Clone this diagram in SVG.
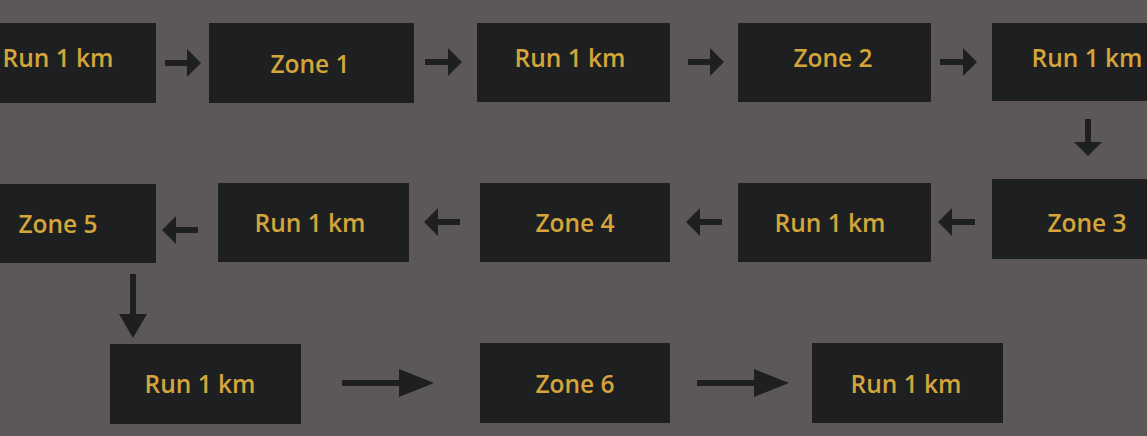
<svg xmlns="http://www.w3.org/2000/svg" width="1147" height="436" viewBox="0 0 1147 436">
<style>
.bg{fill:#5c5857}
.box{fill:#1e1f21}
.lbl{fill:#d4a53b;font-family:"Open Sans","Liberation Sans",sans-serif;font-weight:600;font-size:24.5px;text-anchor:middle;dominant-baseline:central}
.cn{stroke:#1e1f21;stroke-width:6;fill:none}
</style>
<defs>
<marker id="ahS" markerUnits="userSpaceOnUse" markerWidth="14" markerHeight="28" viewBox="0 0 14 28" refX="0" refY="14" orient="auto"><path d="M0,0 L14,14 L0,28 z" fill="#1e1f21"/></marker>
<marker id="ahM" markerUnits="userSpaceOnUse" markerWidth="24" markerHeight="28" viewBox="0 0 24 28" refX="0" refY="14" orient="auto"><path d="M0,0 L24,14 L0,28 z" fill="#1e1f21"/></marker>
<marker id="ahL" markerUnits="userSpaceOnUse" markerWidth="35" markerHeight="28" viewBox="0 0 35 28" refX="0" refY="14" orient="auto"><path d="M0,0 L35,14 L0,28 z" fill="#1e1f21"/></marker>
</defs>
<rect class="bg" x="0" y="0" width="1147" height="436"/>
<g id="n1"><rect class="box" x="-36" y="23" width="192" height="80"/><text class="lbl" x="58" y="57">Run 1 km</text></g>
<g id="n2"><rect class="box" x="209" y="23" width="205" height="80"/><text class="lbl" x="310" y="63">Zone 1</text></g>
<g id="n3"><rect class="box" x="477" y="23" width="193" height="79"/><text class="lbl" x="570" y="57">Run 1 km</text></g>
<g id="n4"><rect class="box" x="738" y="23" width="193" height="79"/><text class="lbl" x="833" y="57">Zone 2</text></g>
<g id="n5"><rect class="box" x="992" y="23" width="192" height="78"/><text class="lbl" x="1087" y="57">Run 1 km</text></g>
<g id="n6"><rect class="box" x="992" y="179" width="192" height="80"/><text class="lbl" x="1087" y="222">Zone 3</text></g>
<g id="n7"><rect class="box" x="738" y="183" width="193" height="79"/><text class="lbl" x="830" y="222">Run 1 km</text></g>
<g id="n8"><rect class="box" x="480" y="183" width="190" height="79"/><text class="lbl" x="575" y="222">Zone 4</text></g>
<g id="n9"><rect class="box" x="218" y="183" width="191" height="79"/><text class="lbl" x="310" y="222">Run 1 km</text></g>
<g id="n10"><rect class="box" x="-36" y="184" width="192" height="79"/><text class="lbl" x="58" y="223">Zone 5</text></g>
<g id="n11"><rect class="box" x="110" y="344" width="191" height="80"/><text class="lbl" x="200" y="383">Run 1 km</text></g>
<g id="n12"><rect class="box" x="480" y="343" width="190" height="80"/><text class="lbl" x="575" y="383">Zone 6</text></g>
<g id="n13"><rect class="box" x="812" y="343" width="191" height="80"/><text class="lbl" x="906" y="383">Run 1 km</text></g>
<g id="connectors">
<line class="cn" x1="165" y1="63" x2="187" y2="63" marker-end="url(#ahS)"/>
<line class="cn" x1="425" y1="62" x2="448" y2="62" marker-end="url(#ahS)"/>
<line class="cn" x1="688" y1="62" x2="710" y2="62" marker-end="url(#ahS)"/>
<line class="cn" x1="940" y1="62" x2="963" y2="62" marker-end="url(#ahS)"/>
<line class="cn" x1="1088" y1="119" x2="1088" y2="142" marker-end="url(#ahS)"/>
<line class="cn" x1="975" y1="222" x2="952" y2="222" marker-end="url(#ahS)"/>
<line class="cn" x1="722" y1="222" x2="700" y2="222" marker-end="url(#ahS)"/>
<line class="cn" x1="460" y1="222" x2="438" y2="222" marker-end="url(#ahS)"/>
<line class="cn" x1="198" y1="230" x2="176" y2="230" marker-end="url(#ahS)"/>
<line class="cn" x1="133" y1="274" x2="133" y2="314" marker-end="url(#ahM)"/>
<line class="cn" x1="342" y1="383" x2="399" y2="383" marker-end="url(#ahL)"/>
<line class="cn" x1="697" y1="383" x2="754" y2="383" marker-end="url(#ahL)"/>
</g>
</svg>
